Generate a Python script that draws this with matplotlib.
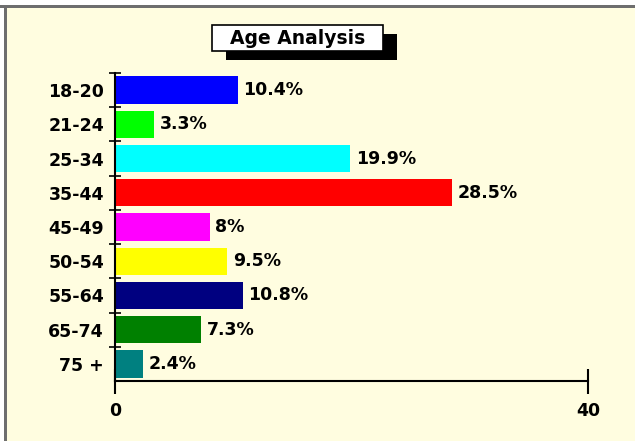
import matplotlib.pyplot as plt
from matplotlib.patches import Rectangle
import numpy as np

age_groups = ["18-20", "21-24", "25-34", "35-44", "45-49", "50-54", "55-64", "65-74", "75 +"]
percentages = [10.4, 3.3, 19.9, 28.5, 8, 9.5, 10.8, 7.3, 2.4]
bar_colors = ["#0000FF", "#00FF00", "#00FFFF", "#FF0000", "#FF00FF",
              "#FFFF00", "#000080", "#008000", "#008080"]
x_ticks = [0, 40]
title = "Age Analysis"

W, H = 635, 441
fig = plt.figure(figsize=(W / 100, H / 100), dpi=100, facecolor="white")


def px(x0, y0, w, h):
    # pixel box (top-left origin) -> figure fraction rectangle
    return (x0 / W, 1 - (y0 + h) / H), w / W, h / H


# light yellow panel with grey frame on top and left
xy, w, h = px(5, 7, W - 5, H - 7)
fig.add_artist(Rectangle(xy, w, h, transform=fig.transFigure,
                         facecolor="#FFFDE0", edgecolor="none", zorder=0))
xy, w, h = px(0, 5, W, 3)
fig.add_artist(Rectangle(xy, w, h, transform=fig.transFigure,
                         facecolor="#6E6E6E", edgecolor="none", zorder=1))
xy, w, h = px(4, 5, 3, H - 5)
fig.add_artist(Rectangle(xy, w, h, transform=fig.transFigure,
                         facecolor="#6E6E6E", edgecolor="none", zorder=1))

ax = fig.add_axes([115 / W, 1 - 381 / H, (588 - 115) / W, (381 - 73) / H])
ax.set_facecolor("none")

y = np.arange(len(age_groups))
ax.barh(y, percentages, height=0.8, color=bar_colors, edgecolor="none", zorder=2)

for yi, v in zip(y, percentages):
    ax.annotate(f"{v:g}%", (v, yi), xytext=(4, 0), textcoords="offset points",
                ha="left", va="center", fontsize=12.5, fontweight="bold", color="black")

ax.set_xlim(0, 40)
ax.set_ylim(len(age_groups) - 0.5, -0.5)

ax.set_yticks(y)
ax.set_yticklabels(age_groups, fontsize=12.5, fontweight="bold", color="black")
ax.tick_params(axis="y", which="major", length=0, pad=8)
ax.set_yticks(np.arange(-0.5, len(age_groups) - 1), minor=True)
ax.tick_params(axis="y", which="minor", length=9, width=1.2, direction="inout")

ax.set_xticks(x_ticks)
ax.set_xticklabels([str(t) for t in x_ticks], fontsize=12.5, fontweight="bold", color="black")
ax.tick_params(axis="x", length=18, width=1.5, direction="inout", pad=6)

for side in ["top", "right"]:
    ax.spines[side].set_visible(False)
for side in ["left", "bottom"]:
    ax.spines[side].set_linewidth(1.5)
    ax.spines[side].set_color("black")

# title box with drop shadow
xy, w, h = px(226, 34, 171, 26)
fig.add_artist(Rectangle(xy, w, h, transform=fig.transFigure,
                         facecolor="black", edgecolor="none", zorder=3))
xy, w, h = px(212, 25, 171, 26)
fig.add_artist(Rectangle(xy, w, h, transform=fig.transFigure,
                         facecolor="white", edgecolor="black", linewidth=1.2, zorder=4))
fig.text(297.5 / W, 1 - 38 / H, title, ha="center", va="center",
         fontsize=13.5, fontweight="bold", color="black", zorder=5)

fig.savefig("out.png", dpi=100, facecolor="white")
